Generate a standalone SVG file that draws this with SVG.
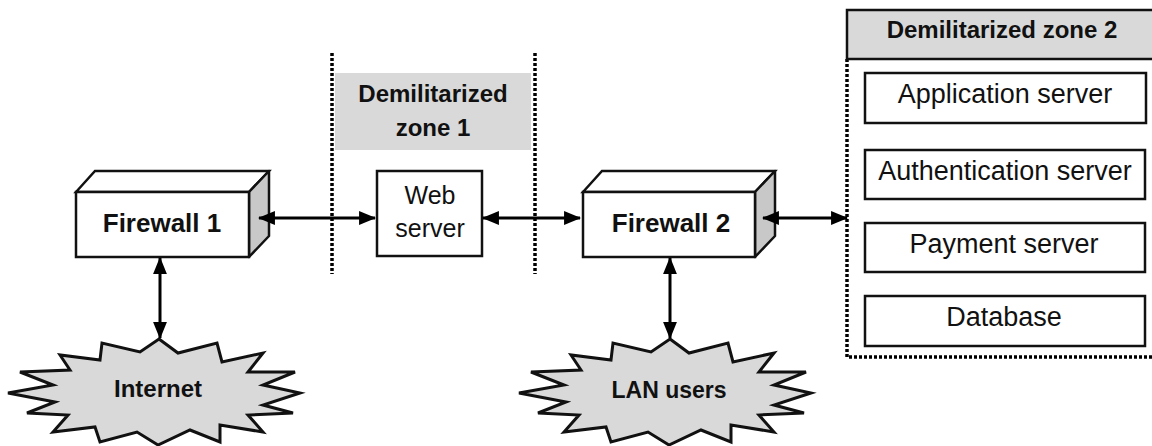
<svg xmlns="http://www.w3.org/2000/svg" width="1152" height="446" viewBox="0 0 1152 446">
<style>
.bold{font-family:"Liberation Sans",Arial,sans-serif;font-weight:bold;fill:#111;text-anchor:middle}
.reg{font-family:"Liberation Sans",Arial,sans-serif;fill:#111;text-anchor:middle}
.box{fill:#fff;stroke:#111;stroke-width:2.5}
.side{fill:#c8c8c8;stroke:#111;stroke-width:2.5;stroke-linejoin:round}
.burst{fill:#d9d9d9;stroke:#111;stroke-width:3;stroke-linejoin:miter}
.dot{fill:none;stroke:#000;stroke-width:3.5;stroke-dasharray:3 2}
.conn{stroke:#000;stroke-width:3;fill:none;marker-start:url(#ah);marker-end:url(#ah)}
</style>
<defs>
<marker id="ah" markerUnits="userSpaceOnUse" markerWidth="17" markerHeight="15" refX="15" refY="6.5" orient="auto-start-reverse" viewBox="0 0 16 13">
<path d="M0,0 L16,6.5 L0,13 z" fill="#000"/>
</marker>
<polygon id="burstShape" points="159,339 178,353 217,343 222,362 263,353 248,372 295,372 263,385 300,393 263,405 293,413 248,415 263,432 220,425 220,442 190,430 158,445 137,432 100,442 95,427 53,432 68,415 27,413 55,402 8,393 53,385 20,372 70,370 60,355 100,360 102,343 140,352"/>
</defs>
<rect width="1152" height="446" fill="#fff"/>

<g id="dmz1-lines">
<line class="dot" x1="332" y1="53" x2="332" y2="274"/>
<line class="dot" x1="535" y1="53" x2="535" y2="274"/>
</g>

<g id="dmz1-label">
<rect x="335" y="73" width="196" height="77" fill="#d9d9d9"/>
<text class="bold" x="433" y="102" font-size="24">Demilitarized</text>
<text class="bold" x="433" y="136" font-size="24">zone 1</text>
</g>

<g id="firewall1">
<polygon class="box" points="76,192 95,171 269,171 249,192"/>
<polygon class="side" points="249,192 269,171 269,236 249,257"/>
<rect class="box" x="76" y="192" width="173" height="65"/>
<text class="bold" x="162" y="232" font-size="26">Firewall 1</text>
</g>

<g id="webserver">
<rect class="box" x="377" y="171" width="105" height="85"/>
<text class="reg" x="430" y="204" font-size="25">Web</text>
<text class="reg" x="430" y="237" font-size="25">server</text>
</g>

<g id="firewall2">
<polygon class="box" points="583,192 602,171 775,171 755,192"/>
<polygon class="side" points="755,192 775,171 775,236 755,257"/>
<rect class="box" x="583" y="192" width="172" height="65"/>
<text class="bold" x="671" y="232" font-size="26">Firewall 2</text>
</g>

<g id="internet">
<use href="#burstShape" class="burst"/>
<text class="bold" x="158" y="397" font-size="24">Internet</text>
</g>

<g id="lanusers">
<use href="#burstShape" class="burst" transform="translate(511,0)"/>
<text class="bold" x="669" y="398" font-size="23">LAN users</text>
</g>

<g id="dmz2">
<path class="dot" d="M847,59 V357 H1152"/>
<rect x="847" y="10" width="310" height="49" fill="#d9d9d9" stroke="#111" stroke-width="2.5"/>
<text class="bold" x="1002" y="38" font-size="24">Demilitarized zone 2</text>
</g>

<g id="appserver">
<rect class="box" x="865" y="73" width="281" height="50"/>
<text class="reg" x="1005" y="103" font-size="27">Application server</text>
</g>
<g id="authserver">
<rect class="box" x="865" y="150" width="280" height="49"/>
<text class="reg" x="1005" y="180" font-size="27">Authentication server</text>
</g>
<g id="paymentserver">
<rect class="box" x="865" y="223" width="280" height="49"/>
<text class="reg" x="1004" y="253" font-size="27">Payment server</text>
</g>
<g id="database">
<rect class="box" x="865" y="296" width="280" height="50"/>
<text class="reg" x="1004" y="326" font-size="27">Database</text>
</g>

<g id="connectors">
<line class="conn" x1="259" y1="218" x2="375" y2="218"/>
<line class="conn" x1="483" y1="218" x2="580" y2="218"/>
<line class="conn" x1="763" y1="218" x2="847" y2="218"/>
<line class="conn" x1="160" y1="258" x2="160" y2="338"/>
<line class="conn" x1="670" y1="258" x2="670" y2="338"/>
</g>
</svg>
